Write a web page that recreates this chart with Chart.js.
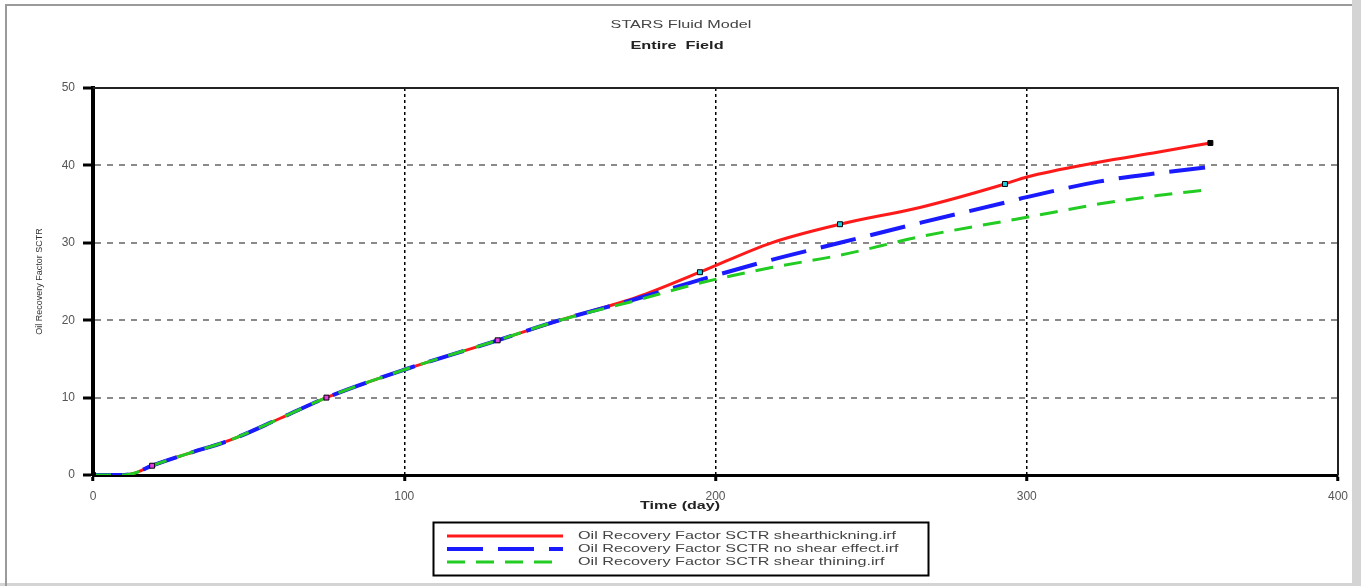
<!DOCTYPE html>
<html>
<head>
<meta charset="utf-8">
<title>STARS Fluid Model</title>
<script src="https://cdn.jsdelivr.net/npm/chart.js"></script>
<style>
  html, body { margin: 0; padding: 0; background: #fff; }
  #wrap { width: 1361px; height: 586px; }
</style>
</head>
<body>
<div id="wrap"><canvas id="rfChart"></canvas></div>
<script>
// time (day), shared by the three runs
const days = [0, 10, 13, 19, 30, 44, 60, 75, 100, 130, 150, 175, 195, 218, 240, 266, 293, 300, 323, 342, 359];
const shearThickening = [0, 0, 0.2, 1.2, 2.7, 4.5, 7.3, 10.0, 13.6, 17.4, 20.0, 23.0, 26.2, 30.0, 32.4, 34.6, 37.6, 38.5, 40.4, 41.7, 42.9];
const noShear = [0, 0, 0.2, 1.2, 2.7, 4.5, 7.3, 10.0, 13.6, 17.4, 20.0, 22.8, 25.2, 27.8, 30.0, 32.6, 35.2, 35.9, 37.9, 39.0, 39.8];
const shearThinning = [0, 0, 0.2, 1.2, 2.7, 4.5, 7.3, 10.0, 13.6, 17.4, 20.0, 22.6, 24.8, 26.8, 28.4, 30.8, 32.8, 33.3, 35.0, 36.1, 36.9];

// little square markers sitting on the red curve
const markerDays = [0, 19, 75, 130, 195, 240, 293, 359];
const markerValues = [0, 1.2, 10.0, 17.4, 26.2, 32.4, 37.6, 42.9];
const markerColors = ['#000', '#e040e0', '#e040e0', '#e040e0', '#20d0e0', '#20d0e0', '#20d0e0', '#000'];

const seriesLabels = [
  'Oil Recovery Factor SCTR shearthickning.irf',
  'Oil Recovery Factor SCTR no shear effect.irf',
  'Oil Recovery Factor SCTR shear thining.irf'
];

const xTickValues = [0, 100, 200, 300, 400];
const yTickValues = [0, 10, 20, 30, 40, 50];

const FONT = 'Liberation Sans, Arial, sans-serif';

function toPoints(xs, ys) {
  return xs.map((x, i) => ({ x: x, y: ys[i] }));
}

// stretched text, the original export is wider than normal Arial
function wideText(ctx, txt, x, y, font, color, align, sx) {
  ctx.save();
  ctx.translate(x, y);
  ctx.scale(sx, 1);
  ctx.font = font;
  ctx.fillStyle = color;
  ctx.textAlign = align;
  ctx.textBaseline = 'middle';
  ctx.fillText(txt, 0, 0);
  ctx.restore();
}

const framePlugin = {
  id: 'frame',
  beforeDraw(chart) {
    const ctx = chart.ctx;
    ctx.save();
    ctx.fillStyle = '#fff';
    ctx.fillRect(0, 0, chart.width, chart.height);
    // window frame
    ctx.fillStyle = '#d4d4d4';
    ctx.fillRect(1352, 0, 9, chart.height);
    ctx.fillRect(0, 583, chart.width, 3);
    ctx.strokeStyle = '#9a9a9a';
    ctx.lineWidth = 2;
    ctx.beginPath();
    ctx.moveTo(6, 586);
    ctx.lineTo(6, 5);
    ctx.lineTo(1352, 5);
    ctx.stroke();
    ctx.restore();
  },
  afterDraw(chart) {
    const ctx = chart.ctx;
    const a = chart.chartArea;
    ctx.save();
    // top and right edge of the plot
    ctx.strokeStyle = '#222';
    ctx.lineWidth = 2;
    ctx.beginPath();
    ctx.moveTo(a.left, a.top);
    ctx.lineTo(a.right, a.top);
    ctx.lineTo(a.right, a.bottom);
    ctx.stroke();

    // titles
    wideText(ctx, 'STARS Fluid Model', 681, 25, '11px ' + FONT, '#444', 'center', 1.47);
    wideText(ctx, 'Entire  Field', 677, 46, 'bold 11px ' + FONT, '#222', 'center', 1.48);
    wideText(ctx, 'Time (day)', 680, 506, 'bold 11px ' + FONT, '#222', 'center', 1.46);

    // legend box
    ctx.strokeStyle = '#000';
    ctx.lineWidth = 2;
    ctx.strokeRect(433.5, 522.5, 495, 53);
    const rows = [536, 549, 562];
    for (let i = 0; i < 3; i++) {
      const ds = chart.data.datasets[i];
      ctx.strokeStyle = ds.borderColor;
      ctx.lineWidth = ds.borderWidth;
      ctx.setLineDash(ds.borderDash || []);
      ctx.beginPath();
      ctx.moveTo(447, rows[i]);
      ctx.lineTo(563, rows[i]);
      ctx.stroke();
      ctx.setLineDash([]);
      wideText(ctx, ds.label, 578, rows[i], '11px ' + FONT, '#444', 'left', 1.47);
    }
    ctx.restore();
  }
};

const ctx = document.getElementById('rfChart').getContext('2d');
new Chart(ctx, {
  type: 'line',
  data: {
    datasets: [
      {
        label: seriesLabels[0],
        data: toPoints(days, shearThickening),
        borderColor: '#ff1a1a',
        borderWidth: 3,
        pointRadius: 0,
        cubicInterpolationMode: 'monotone',
        order: 3
      },
      {
        label: seriesLabels[1],
        data: toPoints(days, noShear),
        borderColor: '#1a1aff',
        borderWidth: 4,
        borderDash: [36, 15],
        pointRadius: 0,
        cubicInterpolationMode: 'monotone',
        order: 2
      },
      {
        label: seriesLabels[2],
        data: toPoints(days, shearThinning),
        borderColor: '#22cc22',
        borderWidth: 3,
        borderDash: [18, 11],
        pointRadius: 0,
        cubicInterpolationMode: 'monotone',
        order: 1
      },
      {
        label: 'markers',
        data: toPoints(markerDays, markerValues),
        showLine: false,
        pointStyle: 'rect',
        pointRadius: 3.5,
        pointBackgroundColor: markerColors,
        pointBorderColor: '#000',
        pointBorderWidth: 1,
        order: 0
      }
    ]
  },
  options: {
    responsive: true,
    maintainAspectRatio: false,
    animation: false,
    layout: { padding: { top: 88, right: 23, bottom: 0, left: 0 } },
    plugins: {
      legend: { display: false },
      tooltip: { enabled: false },
      title: { display: false }
    },
    scales: {
      x: {
        type: 'linear',
        min: 0,
        max: 400,
        afterBuildTicks: s => { s.ticks = xTickValues.map(v => ({ value: v })); },
        afterFit: s => { s.height = 111; },
        grid: { color: '#000', lineWidth: 1.5, tickLength: 6, tickColor: '#000', tickWidth: 3, tickBorderDash: [] },
        border: { display: true, color: '#000', width: 3, dash: [3, 3] },
        ticks: { padding: 8, color: '#555', maxRotation: 0, font: { family: FONT, size: 12 } }
      },
      y: {
        type: 'linear',
        min: 0,
        max: 50,
        afterBuildTicks: s => { s.ticks = yTickValues.map(v => ({ value: v })); },
        afterFit: s => { s.width = 93; },
        grid: { color: '#8a8a8a', lineWidth: 2, tickLength: 10, tickColor: '#000', tickWidth: 3, tickBorderDash: [] },
        border: { display: true, color: '#000', width: 4, dash: [6, 6] },
        ticks: { padding: 8, color: '#555', font: { family: FONT, size: 12 } },
        title: {
          display: true,
          text: 'Oil Recovery Factor SCTR',
          color: '#333',
          padding: { top: 34, bottom: 0 },
          font: { family: FONT, size: 9 }
        }
      }
    }
  },
  plugins: [framePlugin]
});
</script>
</body>
</html>
